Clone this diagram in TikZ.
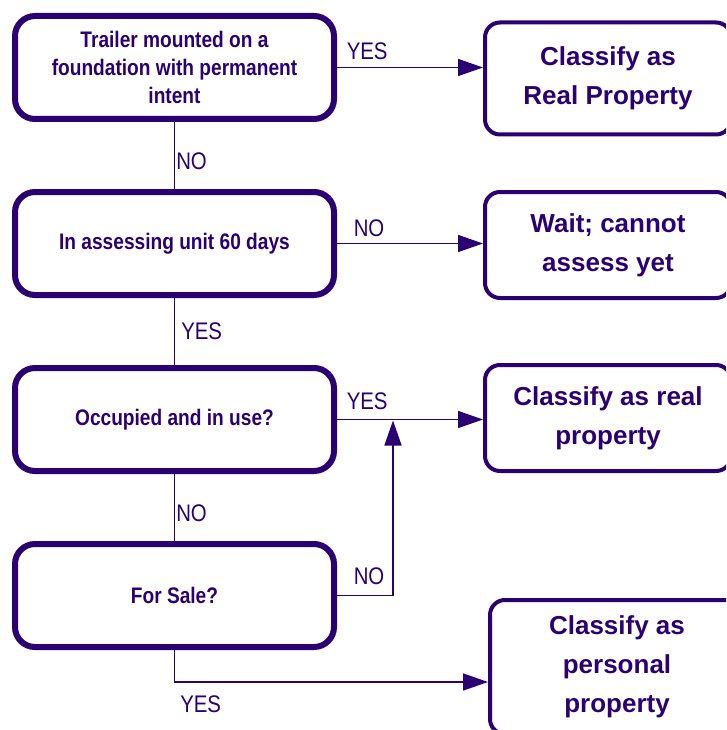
\documentclass[tikz,border=0pt]{standalone}
\usepackage{fontspec}
\setmainfont{Liberation Sans}
\newfontfamily\narrowfont[FakeStretch=0.85]{Liberation Sans}
\usetikzlibrary{arrows.meta}
\definecolor{ink}{RGB}{43,0,115}

\begin{document}
\begin{tikzpicture}[x=1pt,y=1pt,node distance=176pt,
    ask/.style={draw=ink,line width=6pt,rounded corners=20pt,minimum width=319pt,minimum height=103pt,
      align=center,text=ink,font=\narrowfont\fontsize{22.5}{28}\selectfont\bfseries},
    result/.style={draw=ink,line width=4pt,rounded corners=15pt,minimum width=246pt,minimum height=108pt,
      align=center,text=ink,font=\fontsize{26}{39}\selectfont\bfseries},
    lbl/.style={text=ink,inner sep=0pt,font=\narrowfont\fontsize{24}{26}\selectfont},
    link/.style={draw=ink,line width=1.5pt},
    go/.style={link,-{Triangle[length=25pt,width=17pt]}}]
      \path[use as bounding box,clip] (0,0) rectangle (726,-730);

      \node[ask] (1) at (174.5,-67.5) {Trailer mounted on a\\foundation with permanent\\intent};
      \node[ask,below of=1] (2) {In assessing unit 60 days};
      \node[ask,below of=2] (3) {Occupied and in use?};
      \node[ask,below of=3] (4) {For Sale?};

      \node[result,right of=1,xshift=257.5pt,yshift=-11pt,minimum height=112pt] (5) {Classify as\\Real Property};
      \node[result,right of=2,xshift=257.5pt,yshift=-1.5pt,minimum height=106pt] (6) {Wait; cannot\\assess yet};
      \node[result,right of=3,xshift=257.5pt,yshift=1.5pt,minimum height=106pt] (7) {Classify as real\\property};
      \node[result,right of=4,xshift=266.5pt,yshift=-71.5pt,minimum width=254pt,minimum height=134pt] (8) {Classify as\\personal\\property};

      \coordinate (m) at (393,-420.5);

      \draw[go] (1.east) -- node[lbl,pos=0,anchor=base west,xshift=9pt,yshift=8pt] {YES} (1.east -| 5.west);
      \draw[go] (2.east) -- node[lbl,pos=0,anchor=base west,xshift=16pt,yshift=7pt] {NO} (2.east -| 6.west);
      \draw[go] (3.east) -- node[lbl,pos=0,anchor=base west,xshift=9pt,yshift=10pt] {YES} (3.east -| 7.west);
      \draw[go] (4.east) -- node[lbl,pos=0,anchor=base west,xshift=16pt,yshift=11pt] {NO} (4.east -| m) -- (m);
      \draw[go] (4.south) |- node[lbl,pos=0.5,anchor=base west,xshift=5pt,yshift=-30pt] {YES} ([yshift=-15pt]8.west);

      \draw[link] (1) -- node[lbl,anchor=base west,xshift=1pt,yshift=-14pt] {NO} (2);
      \draw[link] (2) -- node[lbl,anchor=base west,xshift=6pt,yshift=-8pt] {YES} (3);
      \draw[link] (3) -- node[lbl,anchor=base west,xshift=1pt,yshift=-13.5pt] {NO} (4);
    \end{tikzpicture}
\end{document}
